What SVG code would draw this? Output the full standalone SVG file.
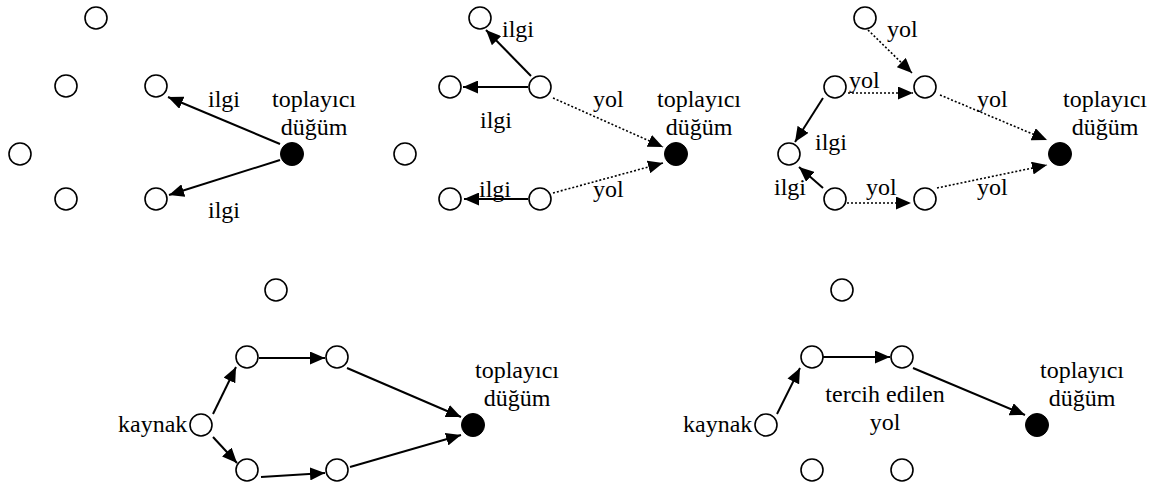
<svg xmlns="http://www.w3.org/2000/svg" width="1159" height="487" viewBox="0 0 1159 487">
  <defs>
    <marker id="head" markerUnits="userSpaceOnUse" markerWidth="16" markerHeight="13" refX="15" refY="6.5" orient="auto">
      <path d="M0,0 L15,6.5 L0,13 z" fill="#000"/>
    </marker>
    <style>
      .n { fill: #fff; stroke: #000; stroke-width: 1.6; }
      .sink { fill: #000; stroke: #000; stroke-width: 1; }
      .e { stroke: #000; stroke-width: 2; fill: none; marker-end: url(#head); }
      .d { stroke: #000; stroke-width: 1.6; stroke-dasharray: 2 2; fill: none; marker-end: url(#head); }
      text { font-family: "Liberation Serif", "Times New Roman", serif; font-size: 24px; fill: #000; }
      .c { text-anchor: middle; }
    </style>
  </defs>
  <rect width="1159" height="487" fill="#fff"/>

  <!-- panel 1: sink floods interest -->
  <g id="p1-edges">
    <line class="e" x1="280" y1="144" x2="168" y2="97"/>
    <line class="e" x1="280" y1="160" x2="169" y2="195"/>
  </g>
  <g id="p1-n1"><circle class="n" cx="96" cy="18" r="11"/></g>
  <g id="p1-n2"><circle class="n" cx="66" cy="86" r="11"/></g>
  <g id="p1-n3"><circle class="n" cx="156" cy="86" r="11"/></g>
  <g id="p1-n4"><circle class="n" cx="20" cy="154" r="11"/></g>
  <g id="p1-n5"><circle class="n" cx="66" cy="199" r="11"/></g>
  <g id="p1-n6"><circle class="n" cx="156" cy="199" r="11"/></g>
  <g id="p1-sink"><circle class="sink" cx="292" cy="154" r="11.5"/>
    <text class="c" x="314" y="107">toplayıcı</text>
    <text class="c" x="314" y="135">düğüm</text>
  </g>
  <g id="p1-labels">
    <text x="208" y="107">ilgi</text>
    <text x="208" y="218">ilgi</text>
  </g>

  <!-- panel 2: interest propagates, gradients point back -->
  <g id="p2-edges">
    <line class="e" x1="531" y1="76" x2="486" y2="30"/>
    <line class="e" x1="528" y1="87" x2="463" y2="87"/>
    <line class="e" x1="528" y1="199" x2="464" y2="199"/>
    <line class="d" x1="553" y1="98" x2="663" y2="147"/>
    <line class="d" x1="553" y1="193" x2="663" y2="163"/>
  </g>
  <g id="p2-n1"><circle class="n" cx="480" cy="18" r="11"/></g>
  <g id="p2-n2"><circle class="n" cx="450" cy="87" r="11"/></g>
  <g id="p2-n3"><circle class="n" cx="540" cy="87" r="11"/></g>
  <g id="p2-n4"><circle class="n" cx="405" cy="154" r="11"/></g>
  <g id="p2-n5"><circle class="n" cx="450" cy="199" r="11"/></g>
  <g id="p2-n6"><circle class="n" cx="540" cy="199" r="11"/></g>
  <g id="p2-sink"><circle class="sink" cx="676" cy="154" r="11.5"/>
    <text class="c" x="699" y="107">toplayıcı</text>
    <text class="c" x="699" y="135">düğüm</text>
  </g>
  <g id="p2-labels">
    <text x="502" y="37">ilgi</text>
    <text x="480" y="128">ilgi</text>
    <text x="479" y="197">ilgi</text>
    <text x="593" y="107">yol</text>
    <text x="593" y="197">yol</text>
  </g>

  <!-- panel 3: interest reaches the edge, gradients set up -->
  <g id="p3-edges">
    <line class="d" x1="868" y1="30" x2="912" y2="73"/>
    <line class="d" x1="848" y1="93" x2="913" y2="93"/>
    <line class="e" x1="823" y1="98" x2="795" y2="142"/>
    <line class="e" x1="823" y1="188" x2="799" y2="167"/>
    <line class="d" x1="847" y1="203" x2="911" y2="203"/>
    <line class="d" x1="940" y1="95" x2="1047" y2="140"/>
    <line class="d" x1="937" y1="188" x2="1047" y2="165"/>
  </g>
  <g id="p3-n1"><circle class="n" cx="865" cy="18" r="11"/></g>
  <g id="p3-n2"><circle class="n" cx="835" cy="87" r="11"/></g>
  <g id="p3-n3"><circle class="n" cx="925" cy="87" r="11"/></g>
  <g id="p3-n4"><circle class="n" cx="789" cy="154" r="11"/></g>
  <g id="p3-n5"><circle class="n" cx="835" cy="199" r="11"/></g>
  <g id="p3-n6"><circle class="n" cx="925" cy="199" r="11"/></g>
  <g id="p3-sink"><circle class="sink" cx="1060" cy="154" r="11.5"/>
    <text class="c" x="1105" y="107">toplayıcı</text>
    <text class="c" x="1105" y="135">düğüm</text>
  </g>
  <g id="p3-labels">
    <text x="887" y="37">yol</text>
    <text x="849" y="88">yol</text>
    <text x="815" y="150">ilgi</text>
    <text x="774" y="195">ilgi</text>
    <text x="866" y="195">yol</text>
    <text x="977" y="107">yol</text>
    <text x="977" y="195">yol</text>
  </g>

  <!-- panel 4: source sends data along both paths -->
  <g id="p4-edges">
    <line class="e" x1="213" y1="414" x2="236" y2="367"/>
    <line class="e" x1="259" y1="358" x2="325" y2="358"/>
    <line class="e" x1="347" y1="368" x2="461" y2="417"/>
    <line class="e" x1="213" y1="437" x2="237" y2="463"/>
    <line class="e" x1="261" y1="477" x2="325" y2="473"/>
    <line class="e" x1="350" y1="467" x2="461" y2="435"/>
  </g>
  <g id="p4-n1"><circle class="n" cx="276" cy="290" r="11"/></g>
  <g id="p4-n2"><circle class="n" cx="247" cy="357" r="11"/></g>
  <g id="p4-n3"><circle class="n" cx="337" cy="357" r="11"/></g>
  <g id="p4-src"><circle class="n" cx="201" cy="425" r="11"/>
    <text x="118" y="432">kaynak</text>
  </g>
  <g id="p4-n5"><circle class="n" cx="247" cy="470" r="11"/></g>
  <g id="p4-n6"><circle class="n" cx="337" cy="470" r="11"/></g>
  <g id="p4-sink"><circle class="sink" cx="473" cy="425" r="11.5"/>
    <text class="c" x="517" y="378">toplayıcı</text>
    <text class="c" x="517" y="406">düğüm</text>
  </g>

  <!-- panel 5: reinforced preferred path -->
  <g id="p5-edges">
    <line class="e" x1="777" y1="414" x2="800" y2="368"/>
    <line class="e" x1="823" y1="357" x2="890" y2="357"/>
    <line class="e" x1="913" y1="368" x2="1025" y2="415"/>
  </g>
  <g id="p5-n1"><circle class="n" cx="842" cy="290" r="11"/></g>
  <g id="p5-n2"><circle class="n" cx="812" cy="357" r="11"/></g>
  <g id="p5-n3"><circle class="n" cx="902" cy="357" r="11"/></g>
  <g id="p5-src"><circle class="n" cx="766" cy="425" r="11"/>
    <text x="683" y="432">kaynak</text>
  </g>
  <g id="p5-n5"><circle class="n" cx="812" cy="470" r="11"/></g>
  <g id="p5-n6"><circle class="n" cx="902" cy="470" r="11"/></g>
  <g id="p5-sink"><circle class="sink" cx="1037" cy="425" r="11.5"/>
    <text class="c" x="1082" y="378">toplayıcı</text>
    <text class="c" x="1082" y="406">düğüm</text>
  </g>
  <g id="p5-labels">
    <text class="c" x="885" y="402">tercih edilen</text>
    <text class="c" x="885" y="430">yol</text>
  </g>
</svg>
